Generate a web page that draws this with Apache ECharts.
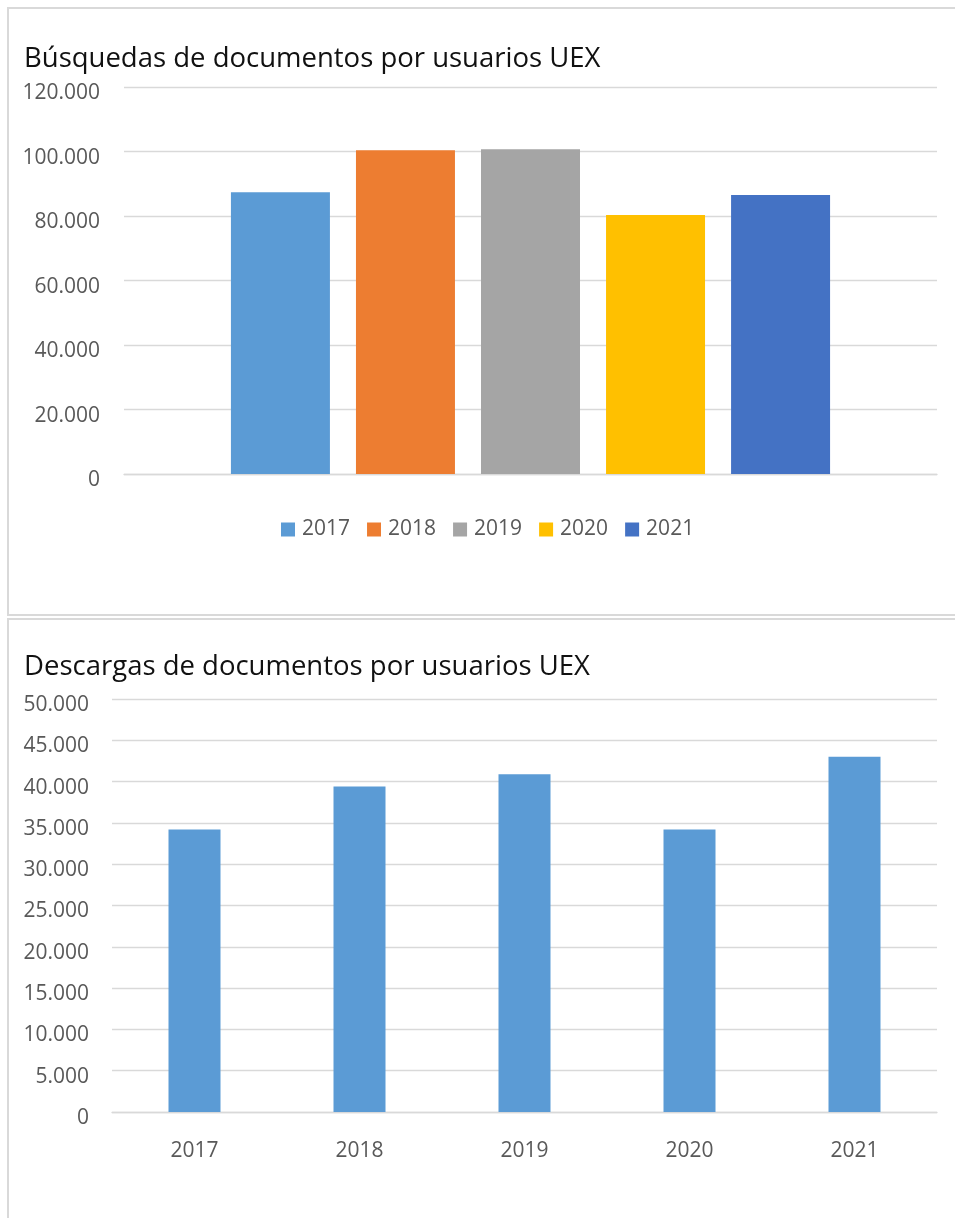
<!DOCTYPE html>
<html>
<head>
<meta charset="utf-8">
<script src="https://cdn.jsdelivr.net/npm/echarts@6/dist/echarts.min.js"></script>
<style>
html,body{margin:0;padding:0;background:#fff;}
#c{width:955px;height:1218px;}
</style>
</head>
<body>
<div id="c"></div>
<script>
const years = ['2017', '2018', '2019', '2020', '2021'];
const busquedas = [87400, 100400, 100700, 80300, 86500];
const descargas = [34200, 39400, 40900, 34200, 43000];
const yearColors = ['#5b9bd5', '#ed7d31', '#a5a5a5', '#ffc000', '#4472c4'];
const title1 = 'Búsquedas de documentos por usuarios UEX';
const title2 = 'Descargas de documentos por usuarios UEX';

const FONT = 'Open Sans';
const fmt = v => String(v).replace(/\B(?=(\d{3})+(?!\d))/g, '.');
const labelStyle = {color: '#595959', fontSize: 21, fontFamily: FONT};
const gridLine = {show: true, lineStyle: {color: '#d9d9d9', width: 1.3}};

const chart = echarts.init(document.getElementById('c'));

const topSeries = years.map((y, i) => ({
  name: y,
  type: 'bar',
  xAxisIndex: 0,
  yAxisIndex: 0,
  data: [busquedas[i]],
  barWidth: 99,
  barGap: '26.3%',
  itemStyle: {color: yearColors[i]},
  silent: true
}));

chart.setOption({
  animation: false,
  backgroundColor: '#fff',
  graphic: [
    {type: 'rect', shape: {x: 8, y: 8, width: 970, height: 607}, style: {fill: 'none', stroke: '#d9d9d9', lineWidth: 2}, silent: true},
    {type: 'rect', shape: {x: 8, y: 619, width: 970, height: 720}, style: {fill: 'none', stroke: '#d9d9d9', lineWidth: 2}, silent: true}
  ],
  title: [
    {text: title1, left: 19, top: 40, textStyle: {fontFamily: FONT, fontSize: 27.5, fontWeight: 'normal', color: '#111'}},
    {text: title2, left: 19, top: 648, textStyle: {fontFamily: FONT, fontSize: 27.5, fontWeight: 'normal', color: '#111'}}
  ],
  legend: {
    data: years,
    left: 276,
    top: 514,
    itemWidth: 14,
    itemHeight: 14,
    itemGap: 17,
    icon: 'rect',
    textStyle: {color: '#595959', fontSize: 21, fontFamily: FONT, padding: [0, 0, 0, 2]},
    selectedMode: false
  },
  grid: [
    {left: 124, top: 87, width: 813, height: 387},
    {left: 112, top: 699, width: 825, height: 413}
  ],
  xAxis: [
    {type: 'category', gridIndex: 0, data: [''], axisLine: {show: true, lineStyle: {color: '#d9d9d9', width: 1.3}}, axisTick: {show: false}, axisLabel: {show: false}},
    {type: 'category', gridIndex: 1, data: years, axisLine: {show: true, lineStyle: {color: '#d9d9d9', width: 1.3}}, axisTick: {show: false}, axisLabel: Object.assign({margin: 29}, labelStyle)}
  ],
  yAxis: [
    {type: 'value', gridIndex: 0, min: 0, max: 120000, interval: 20000, axisLine: {show: false}, axisTick: {show: false}, splitLine: gridLine, axisLabel: Object.assign({margin: 24, formatter: fmt, verticalAlign: 'top', lineHeight: 13}, labelStyle)},
    {type: 'value', gridIndex: 1, min: 0, max: 50000, interval: 5000, axisLine: {show: false}, axisTick: {show: false}, splitLine: gridLine, axisLabel: Object.assign({margin: 23, formatter: fmt, verticalAlign: 'top', lineHeight: 12}, labelStyle)}
  ],
  series: topSeries.concat([{
    name: 'Descargas',
    type: 'bar',
    xAxisIndex: 1,
    yAxisIndex: 1,
    data: descargas,
    barWidth: 52,
    itemStyle: {color: '#5b9bd5'},
    silent: true
  }])
});
</script>
</body>
</html>
